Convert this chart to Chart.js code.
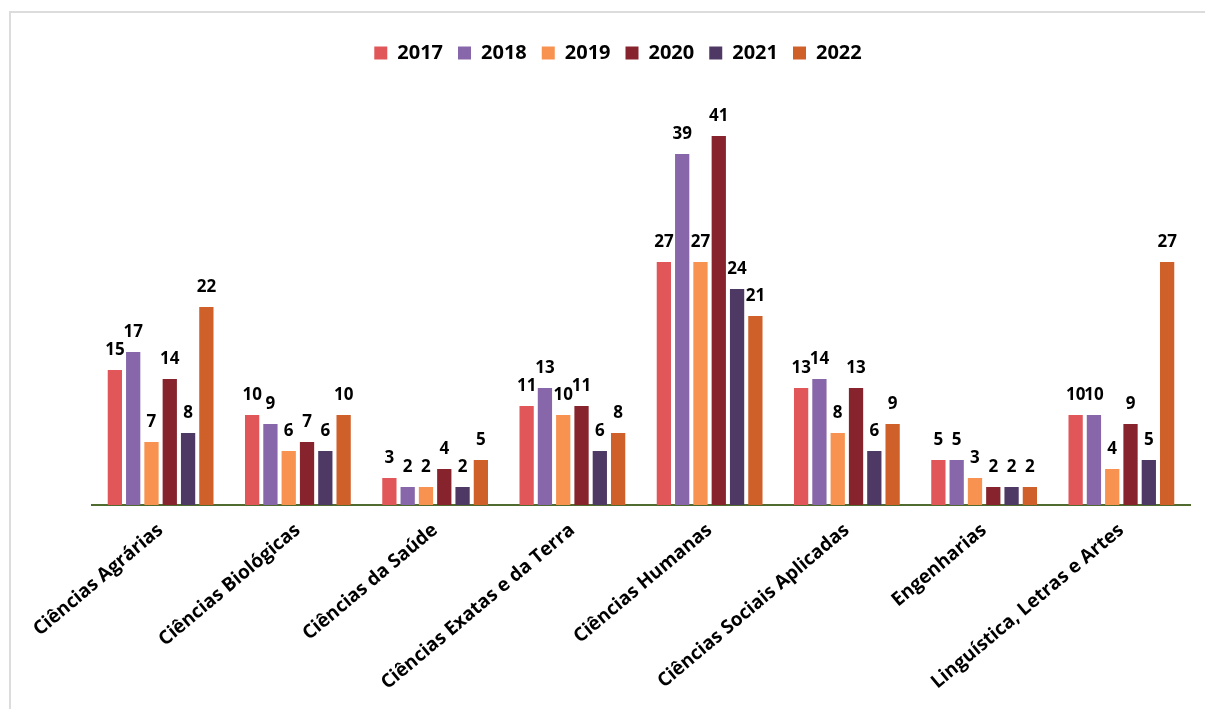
<!DOCTYPE html>
<html>
<head>
<meta charset="utf-8">
<script src="https://cdn.jsdelivr.net/npm/chart.js@4.4.1/dist/chart.umd.min.js"></script>
<style>
  html, body { margin: 0; padding: 0; background: #fff; }
  #wrap { position: relative; width: 1205px; height: 709px; overflow: hidden; }
  #frame { position: absolute; left: 9px; top: 11px; right: -5px; bottom: -5px;
           border-top: 2px solid #dcdcdc; border-left: 2px solid #dcdcdc; }
  #c { position: absolute; left: 0; top: 0; }
</style>
</head>
<body>
<div id="wrap">
  <div id="frame"></div>
  <canvas id="c" width="1205" height="709"></canvas>
</div>
<script>
const categories = [
  "Ciências Agrárias",
  "Ciências Biológicas",
  "Ciências da Saúde",
  "Ciências Exatas e da Terra",
  "Ciências Humanas",
  "Ciências Sociais Aplicadas",
  "Engenharias",
  "Linguística, Letras e Artes"
];
const years = ["2017", "2018", "2019", "2020", "2021", "2022"];
const values2017 = [15, 10, 3, 11, 27, 13, 5, 10];
const values2018 = [17, 9, 2, 13, 39, 14, 5, 10];
const values2019 = [7, 6, 2, 10, 27, 8, 3, 4];
const values2020 = [14, 7, 4, 11, 41, 13, 2, 9];
const values2021 = [8, 6, 2, 6, 24, 6, 2, 5];
const values2022 = [22, 10, 5, 8, 21, 9, 2, 27];
const colors = ["#E15759", "#8767AA", "#F79250", "#86232C", "#4E3964", "#D0602A"];

const seriesValues = [values2017, values2018, values2019, values2020, values2021, values2022];
const FONT = "'Open Sans', 'DejaVu Sans', sans-serif";

const labelPlugin = {
  id: 'valueLabels',
  afterDatasetsDraw(chart) {
    const ctx = chart.ctx;
    ctx.save();
    ctx.font = "bold 17px " + FONT;
    ctx.fillStyle = "#000";
    ctx.textAlign = "center";
    ctx.textBaseline = "alphabetic";
    chart.data.datasets.forEach((ds, i) => {
      const meta = chart.getDatasetMeta(i);
      meta.data.forEach((bar, j) => {
        ctx.fillText(String(ds.data[j]), bar.x, bar.y - 15);
      });
    });
    ctx.restore();
  }
};

new Chart(document.getElementById('c'), {
  type: 'bar',
  data: {
    labels: categories,
    datasets: years.map((y, i) => ({
      label: y,
      data: seriesValues[i],
      backgroundColor: colors[i],
      borderWidth: 0,
      categoryPercentage: 0.8,
      barPercentage: 0.78
    }))
  },
  options: {
    responsive: false,
    animation: false,
    devicePixelRatio: 1,
    layout: { padding: { left: 46, right: 15, top: 28, bottom: 0 } },
    plugins: {
      legend: {
        display: true,
        position: 'top',
        labels: {
          boxWidth: 13,
          boxHeight: 13,
          padding: 15,
          color: '#000',
          font: { family: FONT, size: 20, weight: 'bold' }
        }
      },
      tooltip: { enabled: false },
      title: { display: false }
    },
    scales: {
      x: {
        grid: { display: false, drawTicks: false },
        border: { display: true, color: '#4F6B30', width: 2 },
        ticks: {
          color: '#000',
          minRotation: 40,
          maxRotation: 40,
          padding: 14,
          autoSkip: false,
          font: { family: FONT, size: 19, weight: 'bold' }
        },
        afterFit(scale) {
          scale.height = 204;
          scale.paddingLeft = 0;
          scale.paddingRight = 0;
        }
      },
      y: {
        display: true,
        min: 0,
        max: 48,
        grid: { display: false, drawTicks: false },
        border: { display: false },
        ticks: { display: false },
        afterFit(scale) {
          scale.width = 46;
        }
      }
    }
  },
  plugins: [labelPlugin]
});
</script>
</body>
</html>
